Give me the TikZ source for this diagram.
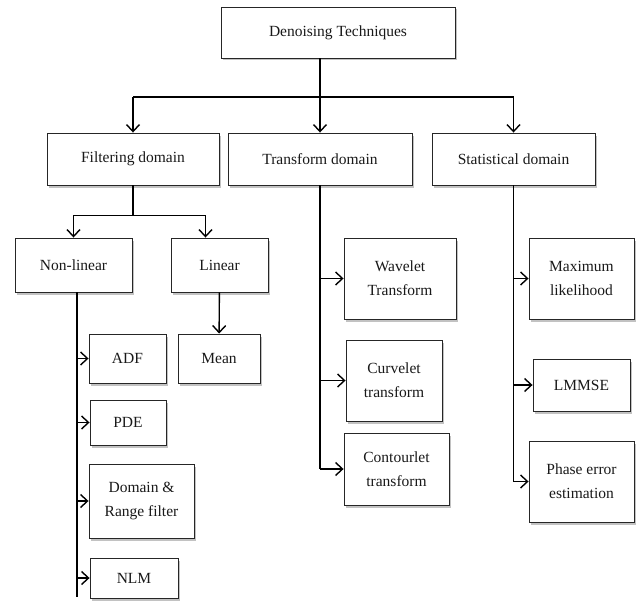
\documentclass[tikz,border=0pt]{standalone}
\usepackage{fontspec}
\setmainfont{Liberation Serif}
\usetikzlibrary{arrows.meta, positioning, shadows}
\tikzstyle{arrow} = [line width=1.4pt, -{Straight Barb[length=7pt,width=13pt]}]
\tikzstyle{spine} = [line width=1.4pt]
\tikzstyle{block} = [rectangle, draw=black!85, line width=0.9pt, align=center, inner sep=2pt, fill=white, text=black!90,
	drop shadow={shadow xshift=2pt, shadow yshift=-2.5pt, fill=black!40, opacity=0.6},
	font=\fontsize{15.5}{24}\selectfont]
\tikzset{boxdim/.style 2 args={minimum width=#1pt, minimum height=#2pt}}

\begin{document}
\begin{tikzpicture}[x=1pt, y=-1pt]
\useasboundingbox (0,0) rectangle (637,602);
% Placement of top levels
\node (denoising) [block, boxdim={234}{51}] at (338,32.5) {Denoising Techniques};
\node (filterDomain) [block, boxdim={172}{52}] at (133,159) {Filtering domain};
\node (transformDomain) [block, boxdim={184}{52}] at (320,159) {Transform domain};
\node (statDomain) [block, boxdim={163}{52}] at (513.5,159) {Statistical domain};

% filtering branch
\node (nonLinear) [block, boxdim={117}{54}] at (73.5,265) {Non-linear};
\node (linear) [block, boxdim={97}{54}] at (219.5,265) {Linear};
\node (mean) [block, boxdim={82}{49}] at (219,358.5) {Mean};
\node (adf) [block, boxdim={77}{49}] at (127.5,358.5) {ADF};
\node (pde) [block, boxdim={76}{45}] at (128,422.5) {PDE};
\node (domainRange) [block, boxdim={105}{74}] at (141.5,501) {Domain \&\\Range filter};
\node (nlm) [block, boxdim={88}{40}] at (134,578) {NLM};

% transform branch
\node (wavelet) [block, boxdim={112}{81}] at (400,278.5) {Wavelet\\Transform};
\node (curvelet) [block, boxdim={96}{81}] at (394,380.5) {Curvelet\\transform};
\node (contourlet) [block, boxdim={105}{72}] at (396.5,469) {Contourlet\\transform};

% statistical branch
\node (maxLikelihood) [block, boxdim={105}{81}] at (581.5,278.5) {Maximum\\likelihood};
\node (lmmse) [block, boxdim={97}{52}] at (581.5,385) {LMMSE};
\node (phaseError) [block, boxdim={105}{81}] at (581.5,481.5) {Phase error\\estimation};

% Drawing of top connectors
\coordinate (topJoin) at (320,97);
\draw [arrow] (transformDomain.north |- denoising.south) -- (transformDomain);
\draw [spine] (filterDomain.north |- topJoin) -- (statDomain.north |- topJoin);
\draw [arrow] (filterDomain.north |- topJoin) -- (filterDomain);
\draw [arrow] (statDomain.north |- topJoin) -- (statDomain);

% filtering connectors
\draw [spine] (filterDomain.south) -- ++(0,30) coordinate (filterJoin);
\draw [arrow] (filterJoin) -| (nonLinear.north);
\draw [arrow] (filterJoin) -| ([xshift=-14pt]linear.north);
\draw [arrow] (linear) -- (mean);
\coordinate (nlSpine) at ([xshift=3.5pt]nonLinear.south);
\draw [spine] (nlSpine) -- ++(0,305);
\foreach \n in {adf, pde, domainRange, nlm}
	\draw [arrow] (nlSpine |- \n.west) -- (\n.west);

% transform connectors
\draw [spine] (transformDomain.south) -- (transformDomain.south |- contourlet.west);
\foreach \n in {wavelet, curvelet, contourlet}
	\draw [arrow] (transformDomain.south |- \n.west) -- (\n.west);

% statistical connectors
\draw [spine] (statDomain.south) -- (statDomain.south |- phaseError.west);
\foreach \n in {maxLikelihood, lmmse, phaseError}
	\draw [arrow] (statDomain.south |- \n.west) -- (\n.west);

\end{tikzpicture}
\end{document}
